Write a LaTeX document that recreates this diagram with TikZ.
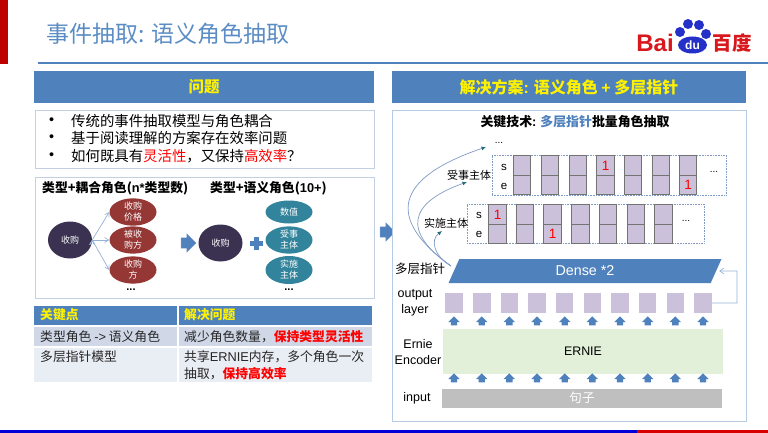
\documentclass[tikz,border=0pt]{standalone}
\usepackage{fontspec}
\setmainfont{Noto Sans CJK SC}
\newfontfamily\latfont{Liberation Sans}
\newcommand{\lat}[1]{{\latfont #1}}
\newcommand{\fsize}[1]{\fontsize{#1}{#1}\selectfont}
\usetikzlibrary{shapes.geometric,shapes.arrows,arrows.meta}
\definecolor{headblue}{HTML}{4F81BD}
\definecolor{titleblue}{HTML}{5B8DC4}
\definecolor{framegray}{HTML}{C3CFE2}
\definecolor{rowdark}{HTML}{D0D8E8}
\definecolor{rowlight}{HTML}{E9EDF4}
\definecolor{darkoval}{HTML}{3B3252}
\definecolor{redoval}{HTML}{953735}
\definecolor{tealoval}{HTML}{31849B}
\definecolor{cellfill}{HTML}{CCC1DA}
\definecolor{edgeblue}{HTML}{95B3D7}
\definecolor{pointer}{HTML}{7F9BC4}
\definecolor{greenfill}{HTML}{E2F0D9}
\definecolor{baidured}{HTML}{D8181C}
\definecolor{baidublue}{HTML}{2530C8}
\tikzset{
        header/.style={fill=headblue,minimum width=#1,minimum height=32,inner sep=0,text=yellow,font=\fsize{15.5}\bfseries},
        frame/.style={draw=framegray,line width=0.8pt,fill=white,inner sep=0},
        bullet/.style={anchor=west,inner sep=0,font=\fsize{14.4}},
        subtitle/.style={anchor=west,inner sep=0,font=\fsize{12.8}\bfseries},
        oval/.style={shape=ellipse,inner sep=0,text=white,align=center,font=\fontsize{9}{11}\selectfont},
        darkball/.style={oval,fill=darkoval,minimum width=44,minimum height=37},
        redball/.style={oval,fill=redoval,minimum width=47,minimum height=#1},
        tealball/.style={oval,fill=tealoval,minimum width=47,minimum height=#1},
        link/.style={draw=edgeblue,line width=0.7pt,-{Straight Barb[length=4pt,width=5pt]}},
        bigarrow/.style={shape=single arrow,fill=headblue,draw=pointer,line width=0.4pt,inner sep=0,minimum height=15,single arrow head extend=4pt,single arrow head indent=0pt,execute at begin node=\rule{0pt}{10pt}},
        upmark/.style={shape=single arrow,rotate=90,fill=headblue,inner sep=0,minimum height=9,single arrow head extend=2.5pt,execute at begin node=\rule{0pt}{6pt}},
        tablehead/.style={fill=headblue,minimum height=19,inner sep=0,text=yellow,font=\fsize{12.8}\bfseries},
        tablecell/.style={inner sep=0,font=\fsize{12.8},text=black!85},
        rowbox/.style={draw=pointer,densely dotted,line width=0.6pt,fill=white,inner sep=0},
        halfcell/.style={draw=black!55,line width=0.8pt,fill=cellfill,minimum width=17.5,minimum height=19.3,inner sep=0,text=red,font=\latfont\fsize{13.5}},
        outcell/.style={fill=cellfill,minimum width=17.7,minimum height=20,inner sep=0},
        plainlabel/.style={inner sep=0,align=center,font=\latfont\fsize{12.5}},
        cjklabel/.style={inner sep=0,font=\fsize{#1}},
        dots/.style={inner sep=0,font=\latfont\fsize{#1}},
        pointerline/.style={draw=pointer,line width=0.7pt,-{Latex[length=4.5pt,width=4pt,color=tealoval!80!black]}},
        layerbar/.style={minimum height=#1,inner sep=0},
}
\begin{document}
\begin{tikzpicture}[x=1pt,y=-1pt]
        \useasboundingbox (0,0) rectangle (768,433);
        \fill[red!75!black] (0,0) rectangle (8,64);
        \fill[blue!85!black] (0,430) rectangle (637,433);
        \fill[red!85!black] (637,430) rectangle (768,433);
        \draw[headblue,line width=1.3pt] (38,63) -- (768,63);
        \node[anchor=west,inner sep=0,text=titleblue,font=\fsize{23}] (title) at (46,34) {事件抽取: 语义角色抽取};

        \node[inner sep=0,text=baidured,font=\latfont\fsize{24}\bfseries] (bai) at (655,43) {Bai};
        \node[inner sep=0,text=baidured,font=\fsize{19.5}\bfseries] (baidu) at (732,43) {百度};
        \fill[baidublue] (688,24) circle (5);
        \fill[baidublue] (699,25) circle (5);
        \fill[baidublue] (680,32) circle (5);
        \fill[baidublue] (706,34) circle (5);
        \node[shape=ellipse,fill=baidublue,minimum width=29,minimum height=17,inner sep=0,text=white,font=\latfont\fsize{12}\bfseries] (paw) at (692.5,45) {du};

        \node[header=340] (probhead) at (204,87) {问题};
        \node[frame,minimum width=339,minimum height=58] (probbox) at (204.5,139) {};
        \node[bullet,font=\latfont\fsize{14.4}] (dot1) at (49,121) {•};
        \node[bullet,font=\latfont\fsize{14.4}] (dot2) at (49,138.5) {•};
        \node[bullet,font=\latfont\fsize{14.4}] (dot3) at (49,156) {•};
        \node[bullet] (prob1) at (71,121) {传统的事件抽取模型与角色耦合};
        \node[bullet] (prob2) at (71,138.5) {基于阅读理解的方案存在效率问题};
        \node[bullet] (prob3) at (71,156) {如何既具有\textcolor{red}{灵活性}，又保持\textcolor{red}{高效率}？};

        \node[frame,minimum width=339,minimum height=121] (rolebox) at (204.5,237.5) {};
        \node[subtitle] (coupled) at (42,188) {类型+耦合角色(\lat{n*}类型数)};
        \node[subtitle] (semantic) at (210,188) {类型+语义角色(\lat{10+})};
        \node[darkball] (buy1) at (70,240) {收购};
        \node[redball=23] (price) at (133,212) {收购\\价格};
        \node[redball=24] (target) at (133,240) {被收\\购方};
        \node[redball=27] (buyer) at (133,270) {收购\\方};
        \node[dots=11] (more1) at (131,290) {\textbf{...}};
        \node[bigarrow] (turn) at (186,243) {};
        \node[darkball] (buy2) at (220.5,243) {收购};
        \fill[headblue] (254.2,237) rectangle (258.8,250);
        \fill[headblue] (250,241.2) rectangle (263,245.8);
        \node[tealball=23] (value) at (289,212) {数值};
        \node[tealball=24] (patient) at (289,240) {受事\\主体};
        \node[tealball=28] (agent) at (289,270) {实施\\主体};
        \node[dots=11] (more2) at (289,290) {\textbf{...}};
        \path [link](buy1.east) edge (price.west);
        \path [link](buy1.east) edge (target.west);
        \path [link](buy1.east) edge (buyer.west);

        \node[bigarrow] (solve) at (385,232) {};

        \node[tablehead,minimum width=143] (colkey) at (105.5,315) {};
        \node[tablehead,minimum width=193] (colans) at (275.5,315) {};
        \node[fill=rowdark,minimum width=143,minimum height=19,inner sep=0] (rowa) at (105.5,336.5) {};
        \node[fill=rowdark,minimum width=193,minimum height=19,inner sep=0] (rowb) at (275.5,336.5) {};
        \node[fill=rowlight,minimum width=143,minimum height=34,inner sep=0] (rowc) at (105.5,365) {};
        \node[fill=rowlight,minimum width=193,minimum height=34,inner sep=0] (rowd) at (275.5,365) {};
        \node[tablehead,anchor=west,fill=none] (keytext) at (40,315) {关键点};
        \node[tablehead,anchor=west,fill=none] (anstext) at (184,315) {解决问题};
        \node[tablecell,anchor=west] (cella) at (40,336.5) {类型角色 \lat{->} 语义角色};
        \node[tablecell,anchor=west] (cellb) at (184,336.5) {减少角色数量，\textcolor{red}{\textbf{保持类型灵活性}}};
        \node[tablecell,anchor=west] (cellc) at (40,357) {多层指针模型};
        \node[tablecell,anchor=west] (celld) at (184,357) {共享\lat{ERNIE}内存，多个角色一次};
        \node[tablecell,anchor=west] (celle) at (184,373.5) {抽取，\textcolor{red}{\textbf{保持高效率}}};

        \node[header=354,font=\fsize{16}\bfseries] (solvehead) at (569,87) {解决方案\lat{:} 语义角色 \lat{+} 多层指针};
        \node[draw=edgeblue!70,line width=0.8pt,fill=white,minimum width=354,minimum height=311,inner sep=0] (solvebox) at (569,265.5) {};
        \node[inner sep=0,font=\fsize{12.9}\bfseries] (tech) at (575,122) {关键技术\lat{:} \textcolor{headblue}{多层指针}批量角色抽取};
        \node[dots=10] (more3) at (499,143) {...};

        \node[rowbox,minimum width=234,minimum height=40] (upper) at (609,175) {};
        \node[plainlabel,font=\latfont\fsize{11.5}] (us) at (504,167) {s};
        \node[plainlabel,font=\latfont\fsize{11.5}] (ue) at (504,186) {e};
        \node[halfcell] (u1s) at (522,165.5) {};
        \node[halfcell] (u1e) at (522,185) {};
        \node[halfcell] (u2s) at (550,165.5) {};
        \node[halfcell] (u2e) at (550,185) {};
        \node[halfcell] (u3s) at (578,165.5) {};
        \node[halfcell] (u3e) at (578,185) {};
        \node[halfcell] (u4s) at (605.5,165.5) {1};
        \node[halfcell] (u4e) at (605.5,185) {};
        \node[halfcell] (u5s) at (633,165.5) {};
        \node[halfcell] (u5e) at (633,185) {};
        \node[halfcell] (u6s) at (661,165.5) {};
        \node[halfcell] (u6e) at (661,185) {};
        \node[halfcell] (u7s) at (688,165.5) {};
        \node[halfcell] (u7e) at (688,185) {1};
        \node[dots=10] (umore) at (714,172) {...};

        \node[rowbox,minimum width=237,minimum height=39] (lower) at (585.5,223.5) {};
        \node[plainlabel,font=\latfont\fsize{11.5}] (ls) at (479,215) {s};
        \node[plainlabel,font=\latfont\fsize{11.5}] (le) at (479,234) {e};
        \node[halfcell] (l1s) at (497.5,214.5) {1};
        \node[halfcell] (l1e) at (497.5,233.8) {};
        \node[halfcell] (l2s) at (525,214.5) {};
        \node[halfcell] (l2e) at (525,233.8) {};
        \node[halfcell] (l3s) at (552.5,214.5) {};
        \node[halfcell] (l3e) at (552.5,233.8) {1};
        \node[halfcell] (l4s) at (580.5,214.5) {};
        \node[halfcell] (l4e) at (580.5,233.8) {};
        \node[halfcell] (l5s) at (608,214.5) {};
        \node[halfcell] (l5e) at (608,233.8) {};
        \node[halfcell] (l6s) at (636,214.5) {};
        \node[halfcell] (l6e) at (636,233.8) {};
        \node[halfcell] (l7s) at (663.5,214.5) {};
        \node[halfcell] (l7e) at (663.5,233.8) {};
        \node[dots=10] (lmore) at (686,221) {...};

        \node[cjklabel=11] (patientlab) at (469,175) {受事主体};
        \node[cjklabel=11] (agentlab) at (446,223) {实施主体};
        \node[cjklabel=12.5] (ptrlab) at (420,269) {多层指针};

        \coordinate (ptrstart) at (451,266);
        \coordinate (ptrtop) at (486,147);
        \coordinate (ptrmid) at (467,182);
        \coordinate (ptrlow) at (442,231);
        \draw [pointerline](ptrstart) .. controls (385,218) and (395,178) .. (ptrtop);
        \draw [pointerline](ptrstart) .. controls (402,232) and (408,203) .. (ptrmid);
        \draw [pointerline](ptrstart) .. controls (434,256) and (430,240) .. (ptrlow);

        \node[shape=trapezium,trapezium left angle=76,trapezium right angle=104,fill=headblue,minimum width=274,minimum height=24,inner sep=0,trapezium stretches=true,text=white,font=\latfont\fsize{14.3}] (dense) at (585,271) {Dense *2};

        \node[plainlabel] (outlab) at (415,303) {output\\[3pt]layer};
        \node[plainlabel] (enclab) at (418,352) {Ernie\\[3pt]Encoder};
        \node[plainlabel] (inlab) at (417,398) {input};

        \node[outcell] (o1) at (454,303) {};
        \node[outcell] (o2) at (482,303) {};
        \node[outcell] (o3) at (509.5,303) {};
        \node[outcell] (o4) at (537,303) {};
        \node[outcell] (o5) at (564.5,303) {};
        \node[outcell] (o6) at (592.5,303) {};
        \node[outcell] (o7) at (620,303) {};
        \node[outcell] (o8) at (647.5,303) {};
        \node[outcell] (o9) at (675.5,303) {};
        \node[outcell] (o10) at (703,303) {};

        \coordinate (loopa) at (737,303);
        \coordinate (loopb) at (737,271);
        \draw [draw=edgeblue,line width=0.7pt,-{Straight Barb[length=4pt,width=6pt]}](o10.east) -- (loopa) -- (loopb) -- ([xshift=3]dense.east);

        \node[upmark] (a1) at (454,322.5) {};
        \node[upmark] (a2) at (481.7,322.5) {};
        \node[upmark] (a3) at (509.3,322.5) {};
        \node[upmark] (a4) at (537,322.5) {};
        \node[upmark] (a5) at (564.7,322.5) {};
        \node[upmark] (a6) at (592.3,322.5) {};
        \node[upmark] (a7) at (620,322.5) {};
        \node[upmark] (a8) at (647.7,322.5) {};
        \node[upmark] (a9) at (675.3,322.5) {};
        \node[upmark] (a10) at (703,322.5) {};

        \node[layerbar=45,fill=greenfill,minimum width=280,font=\latfont\fsize{12.4}] (ernie) at (583,351.5) {ERNIE};

        \node[upmark] (b1) at (454,379.5) {};
        \node[upmark] (b2) at (481.7,379.5) {};
        \node[upmark] (b3) at (509.3,379.5) {};
        \node[upmark] (b4) at (537,379.5) {};
        \node[upmark] (b5) at (564.7,379.5) {};
        \node[upmark] (b6) at (592.3,379.5) {};
        \node[upmark] (b7) at (620,379.5) {};
        \node[upmark] (b8) at (647.7,379.5) {};
        \node[upmark] (b9) at (675.3,379.5) {};
        \node[upmark] (b10) at (703,379.5) {};

        \node[layerbar=19,fill=black!25,minimum width=280,text=white,font=\fsize{12.6}] (sentence) at (582,398) {句子};
\end{tikzpicture}
\end{document}
